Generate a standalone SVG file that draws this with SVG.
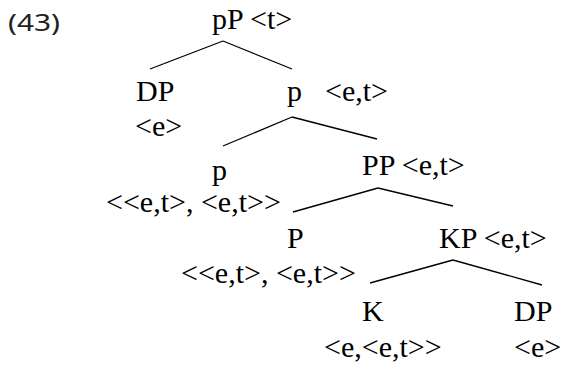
<svg xmlns="http://www.w3.org/2000/svg" width="565" height="367" viewBox="0 0 565 367">
<style>
.t{font-family:"Liberation Serif","Times New Roman",serif;font-size:30px;fill:#000}
.n{font-family:"Noto Sans","DejaVu Sans",sans-serif;font-size:23.5px;fill:#222}
.e{stroke:#000;stroke-width:1.3;fill:none}
</style>
<rect width="565" height="367" fill="#fff"/>
<text class="n" x="8" y="31" textLength="52" lengthAdjust="spacingAndGlyphs">(43)</text>
<g id="connectors">
<line class="e" x1="223" y1="41" x2="150" y2="69"/>
<line class="e" x1="223" y1="41" x2="292" y2="69"/>
<line class="e" x1="292" y1="117" x2="223" y2="146"/>
<line class="e" x1="292" y1="117" x2="377" y2="139"/>
<line class="e" x1="378" y1="188" x2="293" y2="212"/>
<line class="e" x1="378" y1="188" x2="453" y2="206"/>
<line class="e" x1="453" y1="260" x2="370" y2="283"/>
<line class="e" x1="453" y1="260" x2="542" y2="285"/>
</g>
<g id="node-pP"><text class="t" x="212" y="29">pP &lt;t&gt;</text></g>
<g id="node-DP1"><text class="t" x="136" y="101">DP</text><text class="t" x="135" y="136">&lt;e&gt;</text></g>
<g id="node-p1"><text class="t" x="287" y="101">p</text><text class="t" x="325" y="101">&lt;e,t&gt;</text></g>
<g id="node-p2"><text class="t" x="212" y="180">p</text><text class="t" x="106" y="212">&lt;&lt;e,t&gt;, &lt;e,t&gt;&gt;</text></g>
<g id="node-PP"><text class="t" x="362" y="175">PP &lt;e,t&gt;</text></g>
<g id="node-P"><text class="t" x="287" y="248">P</text><text class="t" x="181" y="283">&lt;&lt;e,t&gt;, &lt;e,t&gt;&gt;</text></g>
<g id="node-KP"><text class="t" x="439" y="248">KP &lt;e,t&gt;</text></g>
<g id="node-K"><text class="t" x="362" y="321">K</text><text class="t" x="324" y="357">&lt;e,&lt;e,t&gt;&gt;</text></g>
<g id="node-DP2"><text class="t" x="514" y="321">DP</text><text class="t" x="514" y="357">&lt;e&gt;</text></g>
</svg>
